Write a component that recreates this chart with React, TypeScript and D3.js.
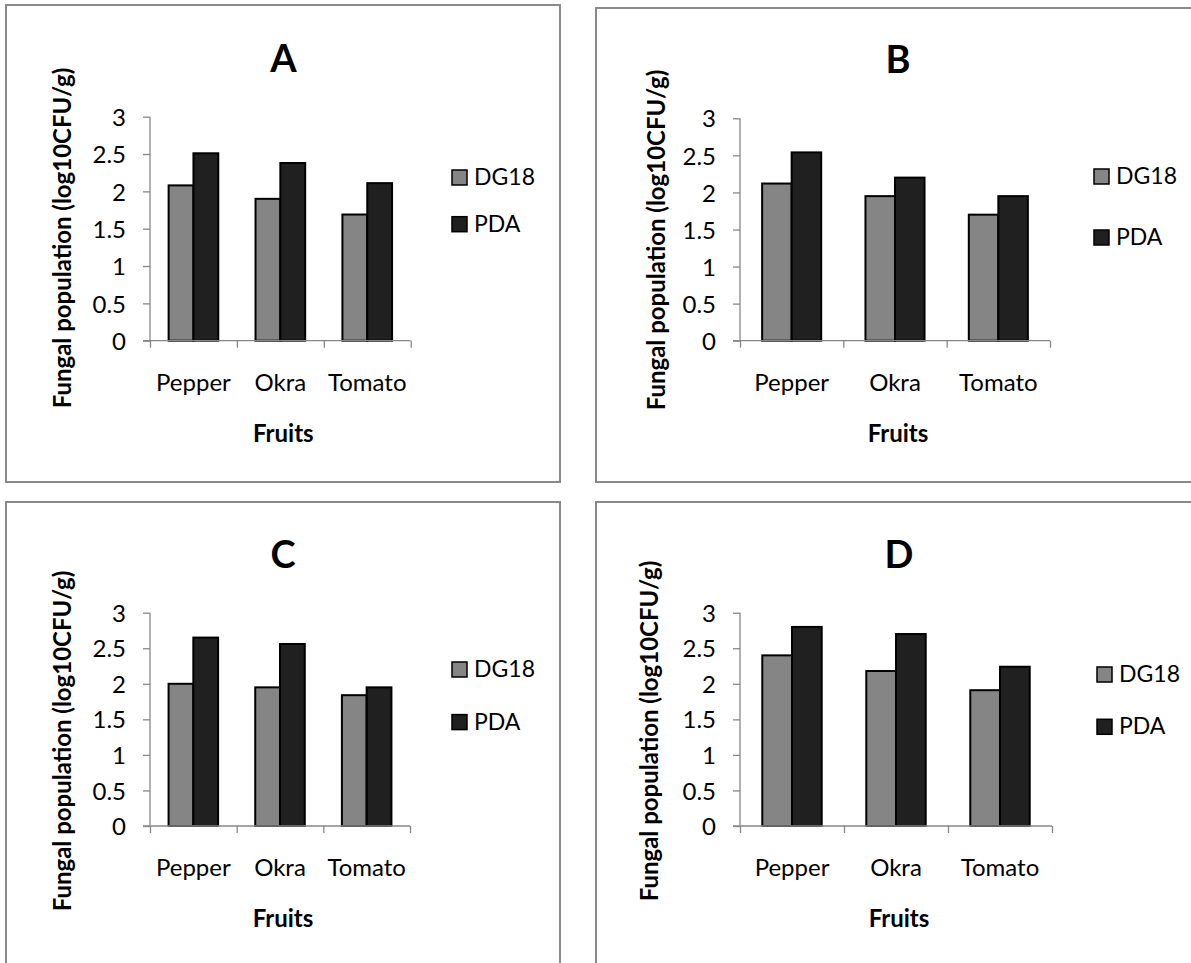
import React, { useEffect, useRef } from 'react'
import * as d3 from 'd3'

// chart values
const categories = ['Pepper', 'Okra', 'Tomato']
const seriesNames = ['DG18', 'PDA']
const yTicks = [0, 0.5, 1, 1.5, 2, 2.5, 3]
const panelTitles = ['A', 'B', 'C', 'D']

const dg18A = [2.08, 1.9, 1.69]
const pdaA = [2.51, 2.38, 2.11]
const dg18B = [2.12, 1.95, 1.7]
const pdaB = [2.54, 2.2, 1.95]
const dg18C = [2.0, 1.95, 1.84]
const pdaC = [2.65, 2.56, 1.95]
const dg18D = [2.4, 2.18, 1.91]
const pdaD = [2.8, 2.7, 2.24]

const yTitle = 'Fungal population (log10CFU/g)'
const xTitle = 'Fruits'

const colors = { DG18: '#858585', PDA: '#202020' }
const FONT = 'Lato, "Noto Sans", sans-serif'

// layout of every panel (pixels)
const layouts = [
  { frame: [6, 5, 554, 477], left: 150, right: 410.7, top: 116.7, bottom: 340.7, yTitleX: 63, yTitleY: 238, legX: 452, legY: 170, legGap: 46.7 },
  { frame: [596, 8, 700, 474], left: 740, right: 1050, top: 118.3, bottom: 340.7, yTitleX: 657, yTitleY: 240, legX: 1094, legY: 169, legGap: 61 },
  { frame: [6, 502, 554, 600], left: 150, right: 410, top: 612.7, bottom: 826, yTitleX: 63, yTitleY: 741, legX: 452, legY: 662, legGap: 52.6 },
  { frame: [596, 502, 700, 600], left: 740, right: 1052, top: 612.7, bottom: 826, yTitleX: 650, yTitleY: 731, legX: 1097, legY: 667, legGap: 52.3 },
]

function Panel({ title, dg18, pda, lay }) {
  const yAxisRef = useRef(null)
  const xTickRef = useRef(null)
  const xLabRef = useRef(null)

  const x0 = d3.scaleBand().domain(categories).range([lay.left, lay.right]).padding(0)
  const x1 = d3.scaleBand().domain(seriesNames).range([0, x0.bandwidth()]).paddingInner(0).paddingOuter(0.75)
  const y = d3.scaleLinear().domain([0, 3]).range([lay.bottom, lay.top])
  const xb = d3.scaleLinear().domain([0, categories.length]).range([lay.left, lay.right])

  const rows = categories.map((c, i) => ({ cat: c, DG18: dg18[i], PDA: pda[i] }))

  useEffect(() => {
    const ya = d3.select(yAxisRef.current)
    ya.selectAll('*').remove()
    ya.call(d3.axisLeft(y).tickValues(yTicks).tickSize(7).tickPadding(17).tickFormat(d => String(d)))
    ya.select('.domain').attr('stroke', '#878787').attr('stroke-width', 1.3).attr('d', `M0,${lay.top}V${lay.bottom}`)
    ya.selectAll('.tick line').attr('stroke', '#878787').attr('stroke-width', 1.3)
    ya.selectAll('.tick text').attr('font-family', FONT).attr('font-size', 24).attr('fill', '#000')
      .attr('dy', '0.36em')

    const xt = d3.select(xTickRef.current)
    xt.selectAll('*').remove()
    xt.call(d3.axisBottom(xb).tickValues(d3.range(categories.length + 1)).tickSize(7).tickFormat(() => ''))
    xt.select('.domain').attr('stroke', '#878787').attr('stroke-width', 1.3).attr('d', `M${lay.left - 7},0H${lay.right}`)
    xt.selectAll('.tick line').attr('stroke', '#878787').attr('stroke-width', 1.3)

    const xl = d3.select(xLabRef.current)
    xl.selectAll('*').remove()
    xl.call(d3.axisBottom(x0).tickSize(0))
    xl.select('.domain').remove()
    xl.selectAll('.tick text').attr('font-family', FONT).attr('font-size', 24).attr('fill', '#000')
      .attr('y', 50).attr('dy', 0)
  })

  const [fx, fy, fw, fh] = lay.frame
  const cx = (lay.left + lay.right) / 2 + 3

  return (
    <g>
      <rect x={fx} y={fy} width={fw} height={fh} fill="#fff" stroke="#8a8a8a" strokeWidth={2} />
      <text x={cx} y={lay.top - 45} textAnchor="middle" fontFamily={FONT} fontWeight="bold" fontSize={38}>{title}</text>
      {rows.map(r => (
        <g key={r.cat} transform={`translate(${x0(r.cat)},0)`}>
          {seriesNames.map(s => (
            <rect key={s} x={x1(s)} y={y(r[s])} width={x1.bandwidth()} height={y(0) - y(r[s])}
              fill={colors[s]} stroke="#000" strokeWidth={2} />
          ))}
        </g>
      ))}
      <g ref={yAxisRef} transform={`translate(${lay.left},0)`} />
      <g ref={xTickRef} transform={`translate(0,${lay.bottom})`} />
      <g ref={xLabRef} transform={`translate(0,${lay.bottom})`} />
      <text transform={`translate(${lay.yTitleX},${lay.yTitleY}) rotate(-90)`} textAnchor="middle" dy="0.35em"
        fontFamily={FONT} fontWeight="bold" fontSize={24}>{yTitle}</text>
      <text x={cx} y={lay.bottom + 101} textAnchor="middle" fontFamily={FONT} fontWeight="bold" fontSize={24}>{xTitle}</text>
      {seriesNames.map((s, i) => (
        <g key={s} transform={`translate(${lay.legX},${lay.legY + i * lay.legGap})`}>
          <rect x={0} y={0} width={15} height={15} fill={colors[s]} stroke="#000" strokeWidth={1.5} />
          <text x={22} y={15} fontFamily={FONT} fontSize={23}>{s}</text>
        </g>
      ))}
    </g>
  )
}

export default function App() {
  const data = [[dg18A, pdaA], [dg18B, pdaB], [dg18C, pdaC], [dg18D, pdaD]]
  return (
    <svg width={1191} height={963} style={{ position: 'absolute', left: 0, top: 0, background: '#fff' }}>
      <rect width={1191} height={963} fill="#fff" />
      {panelTitles.map((t, i) => (
        <Panel key={t} title={t} dg18={data[i][0]} pda={data[i][1]} lay={layouts[i]} />
      ))}
    </svg>
  )
}
